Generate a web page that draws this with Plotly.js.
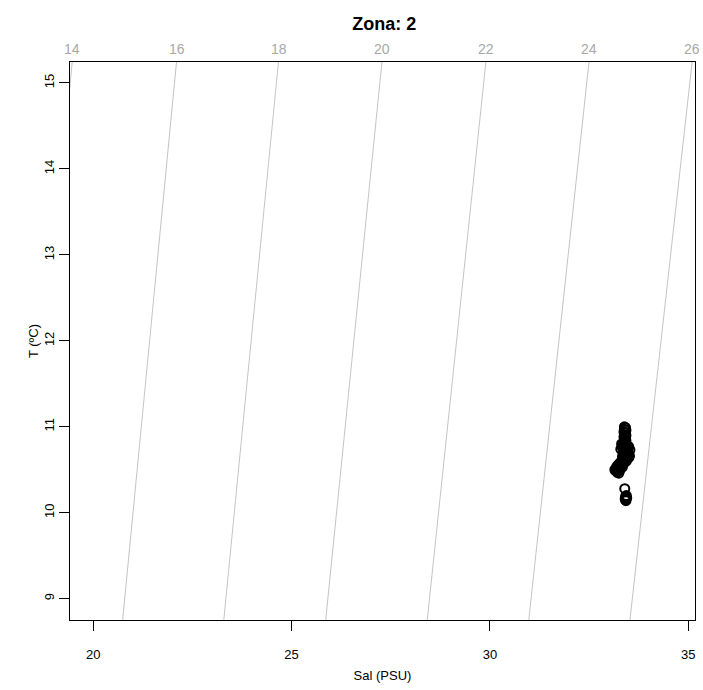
<!DOCTYPE html>
<html>
<head>
<meta charset="utf-8">
<script src="https://cdn.plot.ly/plotly-3.0.1.min.js"></script>
<style>html,body{margin:0;padding:0;background:#fff;}#chart{width:703px;height:690px;}</style>
</head>
<body>
<div id="chart"></div>
<script>
// Isopycnal (sigma-t) lines
const isoLabels = [14, 16, 18, 20, 22, 24, 26];
const isoT = [8.75, 15.25];                       // temperatures at the frame bottom / top
const isoSalBottom = [18.11, 20.74, 23.29, 25.86, 28.42, 30.98, 33.53];
const isoSalTop = [19.47, 22.10, 24.67, 27.28, 29.90, 32.50, 35.10];

// Observations (Sal, T)
const sal = [33.39, 33.42, 33.39, 33.43, 33.38, 33.42, 33.39, 33.43, 33.38, 33.42,
             33.39, 33.43, 33.38, 33.42, 33.40, 33.36, 33.44, 33.40,
             33.32, 33.36, 33.42, 33.46, 33.50, 33.34, 33.40, 33.48, 33.53, 33.30,
             33.38, 33.44, 33.36, 33.42, 33.47, 33.50, 33.46, 33.40, 33.34, 33.38,
             33.44, 33.32, 33.28, 33.24, 33.30, 33.20, 33.26, 33.18, 33.22, 33.17,
             33.27, 33.34, 33.37, 33.21, 33.25, 33.15, 33.29, 33.33, 33.47, 33.52,
             33.40, 33.42, 33.43, 33.42, 33.43, 33.45, 33.41, 33.44];
const temp = [11.00, 10.99, 10.97, 10.96, 10.94, 10.93, 10.91, 10.90, 10.88, 10.87,
              10.85, 10.84, 10.82, 10.81, 10.79, 10.78, 10.77, 10.70,
              10.80, 10.80, 10.79, 10.78, 10.77, 10.76, 10.75, 10.74, 10.73, 10.74,
              10.72, 10.71, 10.69, 10.68, 10.67, 10.64, 10.63, 10.64, 10.65, 10.61,
              10.60, 10.60, 10.58, 10.56, 10.55, 10.54, 10.52, 10.51, 10.50, 10.49,
              10.49, 10.53, 10.57, 10.47, 10.46, 10.50, 10.52, 10.56, 10.70, 10.66,
              10.28, 10.19, 10.17, 10.15, 10.14, 10.17, 10.16, 10.20];

const xTicks = [20, 25, 30, 35];
const yTicks = [9, 10, 11, 12, 13, 14, 15];

const traces = [];
isoLabels.forEach((lab, i) => {
  traces.push({
    type: 'scatter', mode: 'lines',
    x: [isoSalBottom[i], isoSalTop[i]], y: isoT,
    line: {color: '#c4c4c4', width: 1},
    hoverinfo: 'skip', showlegend: false
  });
});
traces.push({
  type: 'scatter', mode: 'markers', x: sal, y: temp,
  marker: {symbol: 'circle-open', size: 9, color: '#000', line: {width: 2, color: '#000'}},
  showlegend: false
});

const annotations = isoLabels.map((lab, i) => ({
  x: isoSalTop[i], xref: 'x', y: 1, yref: 'paper',
  yanchor: 'bottom', xanchor: 'center', yshift: 3,
  text: String(lab), showarrow: false,
  font: {family: 'Liberation Sans, Arial, sans-serif', size: 14, color: '#a8a8a8'}
}));

const layout = {
  width: 703, height: 690,
  margin: {l: 70, r: 8, t: 62, b: 70},
  paper_bgcolor: '#fff', plot_bgcolor: '#fff',
  font: {family: 'Liberation Sans, Arial, sans-serif', size: 13, color: '#000'},
  title: {text: '<b>Zona: 2</b>', x: 0.5465, xanchor: 'center', y: 0.965, yanchor: 'middle',
          font: {size: 18, color: '#000'}},
  xaxis: {
    range: [19.413, 35.171], tickvals: xTicks, ticktext: xTicks.map(String),
    showgrid: false, zeroline: false, showline: true, mirror: true,
    linecolor: '#000', linewidth: 1, ticks: 'outside', ticklen: 10, tickcolor: '#000',
    ticklabelstandoff: 12,
    title: {text: 'Sal (PSU)', standoff: 10, font: {size: 13}}
  },
  yaxis: {
    range: [8.752, 15.244], tickvals: yTicks, ticktext: yTicks.map(String),
    showgrid: false, zeroline: false, showline: true, mirror: true,
    linecolor: '#000', linewidth: 1, ticks: 'outside', ticklen: 10, tickcolor: '#000',
    tickangle: -90,
    title: {text: 'T (ºC)', standoff: 0, font: {size: 13}}
  },
  annotations: annotations
};

Plotly.newPlot('chart', traces, layout, {displayModeBar: false, staticPlot: true});
</script>
</body>
</html>
